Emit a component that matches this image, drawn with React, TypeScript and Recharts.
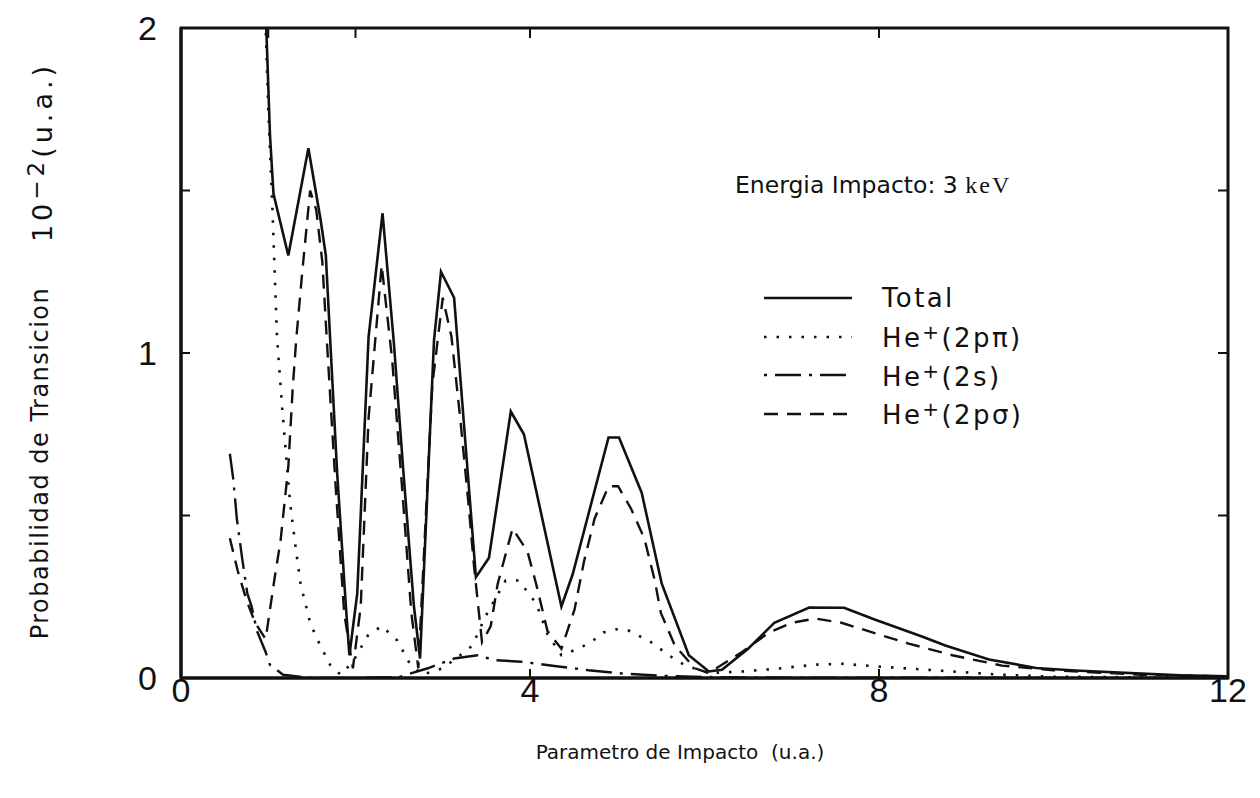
import React from "react";
import { LineChart, Line, XAxis, YAxis, ReferenceArea } from "recharts";

// impact parameter (u.a.) -> transition probability (10^-2 u.a.)
const total: [number, number][] = [
  [0.9, 2.6], [1.02, 1.67], [1.06, 1.49], [1.23, 1.3], [1.46, 1.63], [1.6, 1.41],
  [1.66, 1.3], [1.71, 1.04], [1.79, 0.63], [1.89, 0.22], [1.93, 0.07], [2.02, 0.26],
  [2.15, 1.05], [2.31, 1.43], [2.44, 1.03], [2.55, 0.63], [2.67, 0.22], [2.74, 0.06],
  [2.9, 1.04], [2.98, 1.25], [3.13, 1.17], [3.38, 0.31], [3.53, 0.37], [3.78, 0.82],
  [3.93, 0.75], [4.36, 0.22], [4.49, 0.32], [4.9, 0.74], [5.02, 0.74], [5.28, 0.57],
  [5.51, 0.29], [5.82, 0.07], [6.05, 0.02], [6.2, 0.025], [6.5, 0.09], [6.8, 0.17],
  [7.2, 0.217], [7.6, 0.216], [7.95, 0.18], [8.5, 0.127], [8.76, 0.1], [9.26, 0.057],
  [9.8, 0.031], [10.25, 0.023], [11.45, 0.008], [12, 0.005],
];

const pPi: [number, number][] = [
  [0.9, 2.6], [1.0, 1.75], [1.05, 1.43], [1.1, 1.05], [1.16, 0.83], [1.25, 0.54],
  [1.31, 0.41], [1.37, 0.29], [1.48, 0.17], [1.56, 0.12], [1.71, 0.04], [1.83, 0.01],
  [1.97, 0.05], [2.14, 0.13], [2.3, 0.16], [2.48, 0.115], [2.61, 0.05], [2.76, 0.01],
  [3.0, 0.03], [3.2, 0.07], [3.34, 0.1], [3.49, 0.19], [3.72, 0.3], [3.87, 0.3],
  [4.07, 0.23], [4.2, 0.135], [4.36, 0.07], [4.55, 0.09], [4.7, 0.11], [4.84, 0.14],
  [4.99, 0.15], [5.14, 0.145], [5.39, 0.11], [5.59, 0.07], [5.77, 0.04], [6.05, 0.015],
  [6.43, 0.02], [6.8, 0.028], [7.27, 0.041], [7.57, 0.044], [7.95, 0.036], [8.34, 0.029],
  [9.4, 0.01], [10, 0.004], [12, 0],
];

const s2: [number, number][] = [
  [0.56, 0.69], [0.6, 0.61], [0.64, 0.49], [0.7, 0.37], [0.76, 0.26], [0.81, 0.22],
  [0.87, 0.145], [0.97, 0.08], [1.02, 0.04], [1.17, 0.01], [1.5, 0], [2.0, 0],
  [2.5, 0.003], [2.83, 0.03], [3.13, 0.06], [3.4, 0.07], [3.59, 0.055], [3.9, 0.05],
  [4.28, 0.037], [4.67, 0.024], [5.05, 0.014], [5.5, 0.007], [6, 0.003], [7, 0.001], [12, 0],
];

const pSigma: [number, number][] = [
  [0.56, 0.43], [0.65, 0.33], [0.75, 0.24], [0.85, 0.17], [0.97, 0.12], [1.08, 0.32],
  [1.14, 0.42], [1.23, 0.65], [1.28, 0.89], [1.32, 1.04], [1.39, 1.25], [1.48, 1.5],
  [1.55, 1.44], [1.62, 1.28], [1.68, 1.0], [1.77, 0.6], [1.87, 0.2], [1.97, 0.03],
  [2.06, 0.22], [2.15, 0.8], [2.3, 1.27], [2.42, 0.98], [2.53, 0.6], [2.64, 0.2],
  [2.72, 0.03], [2.88, 0.9], [3.0, 1.17], [3.1, 1.05], [3.2, 0.8], [3.29, 0.55],
  [3.36, 0.34], [3.45, 0.11], [3.55, 0.16], [3.63, 0.29], [3.72, 0.38], [3.8, 0.46],
  [3.97, 0.39], [4.07, 0.29], [4.2, 0.145], [4.36, 0.09], [4.51, 0.21], [4.62, 0.36],
  [4.74, 0.49], [4.9, 0.59], [5.01, 0.59], [5.16, 0.52], [5.31, 0.43], [5.43, 0.3],
  [5.5, 0.2], [5.66, 0.1], [5.89, 0.03], [6.05, 0.015], [6.43, 0.08], [6.74, 0.14],
  [7.0, 0.17], [7.27, 0.183], [7.57, 0.17], [7.95, 0.138], [8.34, 0.106], [8.84, 0.07],
  [9.41, 0.038], [9.99, 0.024], [11, 0.01], [12, 0.005],
];

const xTicks = [0, 4, 8, 12];
const xTopTicks = [1, 2, 4, 8];
const yTicks = [0, 1, 2];
const yMinorTicks = [0.5, 1, 1.5];

const series = [
  { name: "Total", data: total, dash: undefined as string | undefined, width: 2.6 },
  { name: "pPi", data: pPi, dash: "2.5 10", width: 2.6 },
  { name: "s2", data: s2, dash: "26 8 3 8", width: 2.4 },
  { name: "pSigma", data: pSigma, dash: "14 9", width: 2.4 },
];

const legendRows = [
  { label: "Total", dash: undefined as string | undefined, sub: "" },
  { label: "He", dash: "2.5 10", sub: "(2pπ)" },
  { label: "He", dash: "3 8 26 8", sub: "(2s)" },
  { label: "He", dash: "14 9", sub: "(2pσ)" },
];

const toPts = (arr: [number, number][]) => arr.map(([x, y]) => ({ x, y }));

const FONT = "'DejaVu Sans', sans-serif";
const INK = "#111";
const tickFont = { fontSize: 34, fill: INK, fontFamily: "'Liberation Sans', Arial, sans-serif" };
const noLabel = () => <g />;

function FigureLegend() {
  return (
    <div style={{ position: "absolute", left: 762, top: 279, fontFamily: FONT, fontSize: 26, letterSpacing: 2.4, color: INK }}>
      {legendRows.map((r, i) => (
        <div key={i} style={{ display: "flex", alignItems: "center", height: 38.5 }}>
          <svg width={92} height={10} style={{ marginRight: 28 }}>
            <line x1={2} y1={5} x2={90} y2={5} stroke={INK} strokeWidth={2.4} strokeDasharray={r.dash} />
          </svg>
          <span style={{ whiteSpace: "nowrap" }}>
            {r.label}
            {r.sub && <span style={{ fontSize: 20, verticalAlign: 8 }}>+</span>}
            {r.sub}
          </span>
        </div>
      ))}
    </div>
  );
}

export default function App() {
  return (
    <div style={{ position: "absolute", left: 0, top: 0, width: 1260, height: 798, background: "#fff" }}>
      <LineChart width={1260} height={798} margin={{ top: 27, right: 32, bottom: 80, left: 100 }}>
        <XAxis
          xAxisId="x"
          dataKey="x"
          type="number"
          domain={[0, 12]}
          ticks={xTicks}
          allowDataOverflow
          height={40}
          tickSize={-9}
          tickMargin={9}
          axisLine={{ stroke: INK, strokeWidth: 3 }}
          tickLine={{ stroke: INK, strokeWidth: 2 }}
          tick={tickFont}
        />
        <XAxis
          xAxisId="xt"
          dataKey="x"
          type="number"
          domain={[0, 12]}
          ticks={xTopTicks}
          allowDataOverflow
          orientation="top"
          height={1}
          tick={noLabel}
          tickSize={-10}
          axisLine={false}
          tickLine={{ stroke: INK, strokeWidth: 2 }}
        />
        <YAxis
          yAxisId="y"
          type="number"
          domain={[0, 2]}
          ticks={yTicks}
          allowDataOverflow
          width={81}
          tickLine={false}
          tickMargin={18}
          axisLine={{ stroke: INK, strokeWidth: 3 }}
          tick={tickFont}
        />
        <YAxis
          yAxisId="yl"
          type="number"
          domain={[0, 2]}
          ticks={yMinorTicks}
          allowDataOverflow
          orientation="left"
          mirror
          width={1}
          tick={noLabel}
          tickSize={9}
          axisLine={false}
          tickLine={{ stroke: INK, strokeWidth: 2 }}
        />
        <YAxis
          yAxisId="yr"
          type="number"
          domain={[0, 2]}
          ticks={yMinorTicks}
          allowDataOverflow
          orientation="right"
          mirror
          width={1}
          tick={noLabel}
          tickSize={10}
          axisLine={false}
          tickLine={{ stroke: INK, strokeWidth: 2 }}
        />
        <ReferenceArea
          xAxisId="x"
          yAxisId="y"
          x1={0}
          x2={12}
          y1={0}
          y2={2}
          fill="none"
          fillOpacity={0}
          stroke={INK}
          strokeWidth={3}
        />
        {series.map((s) => (
          <Line
            key={s.name}
            xAxisId="x"
            yAxisId="y"
            data={toPts(s.data)}
            dataKey="y"
            type="linear"
            stroke={INK}
            strokeWidth={s.width}
            strokeDasharray={s.dash}
            dot={false}
            activeDot={false}
            isAnimationActive={false}
          />
        ))}
      </LineChart>

      <div
        style={{
          position: "absolute", left: 40, top: 463, transform: "translate(-50%, -50%) rotate(-90deg)",
          fontFamily: FONT, fontSize: 24, letterSpacing: 1.5, color: INK, whiteSpace: "nowrap",
        }}
      >
        Probabilidad de Transicion
      </div>
      <div
        style={{
          position: "absolute", left: 40, top: 152, transform: "translate(-50%, -50%) rotate(-90deg)",
          fontFamily: FONT, fontSize: 27, letterSpacing: 4, color: INK, whiteSpace: "nowrap",
        }}
      >
        10<span style={{ fontSize: 23, verticalAlign: 8 }}>−2</span>(u.a.)
      </div>

      <div
        style={{
          position: "absolute", left: 680, top: 752, transform: "translate(-50%, -50%)",
          fontFamily: FONT, fontSize: 20, color: INK, whiteSpace: "nowrap",
        }}
      >
        Parametro de Impacto&nbsp;&nbsp;(u.a.)
      </div>

      <div
        style={{
          position: "absolute", left: 735, top: 185, transform: "translateY(-50%)",
          fontFamily: FONT, fontSize: 23.5, color: INK, whiteSpace: "nowrap",
        }}
      >
        Energia Impacto: 3{" "}
        <span style={{ fontFamily: "'Liberation Serif', serif", fontSize: 24, letterSpacing: 2 }}>keV</span>
      </div>

      <FigureLegend />
    </div>
  );
}
